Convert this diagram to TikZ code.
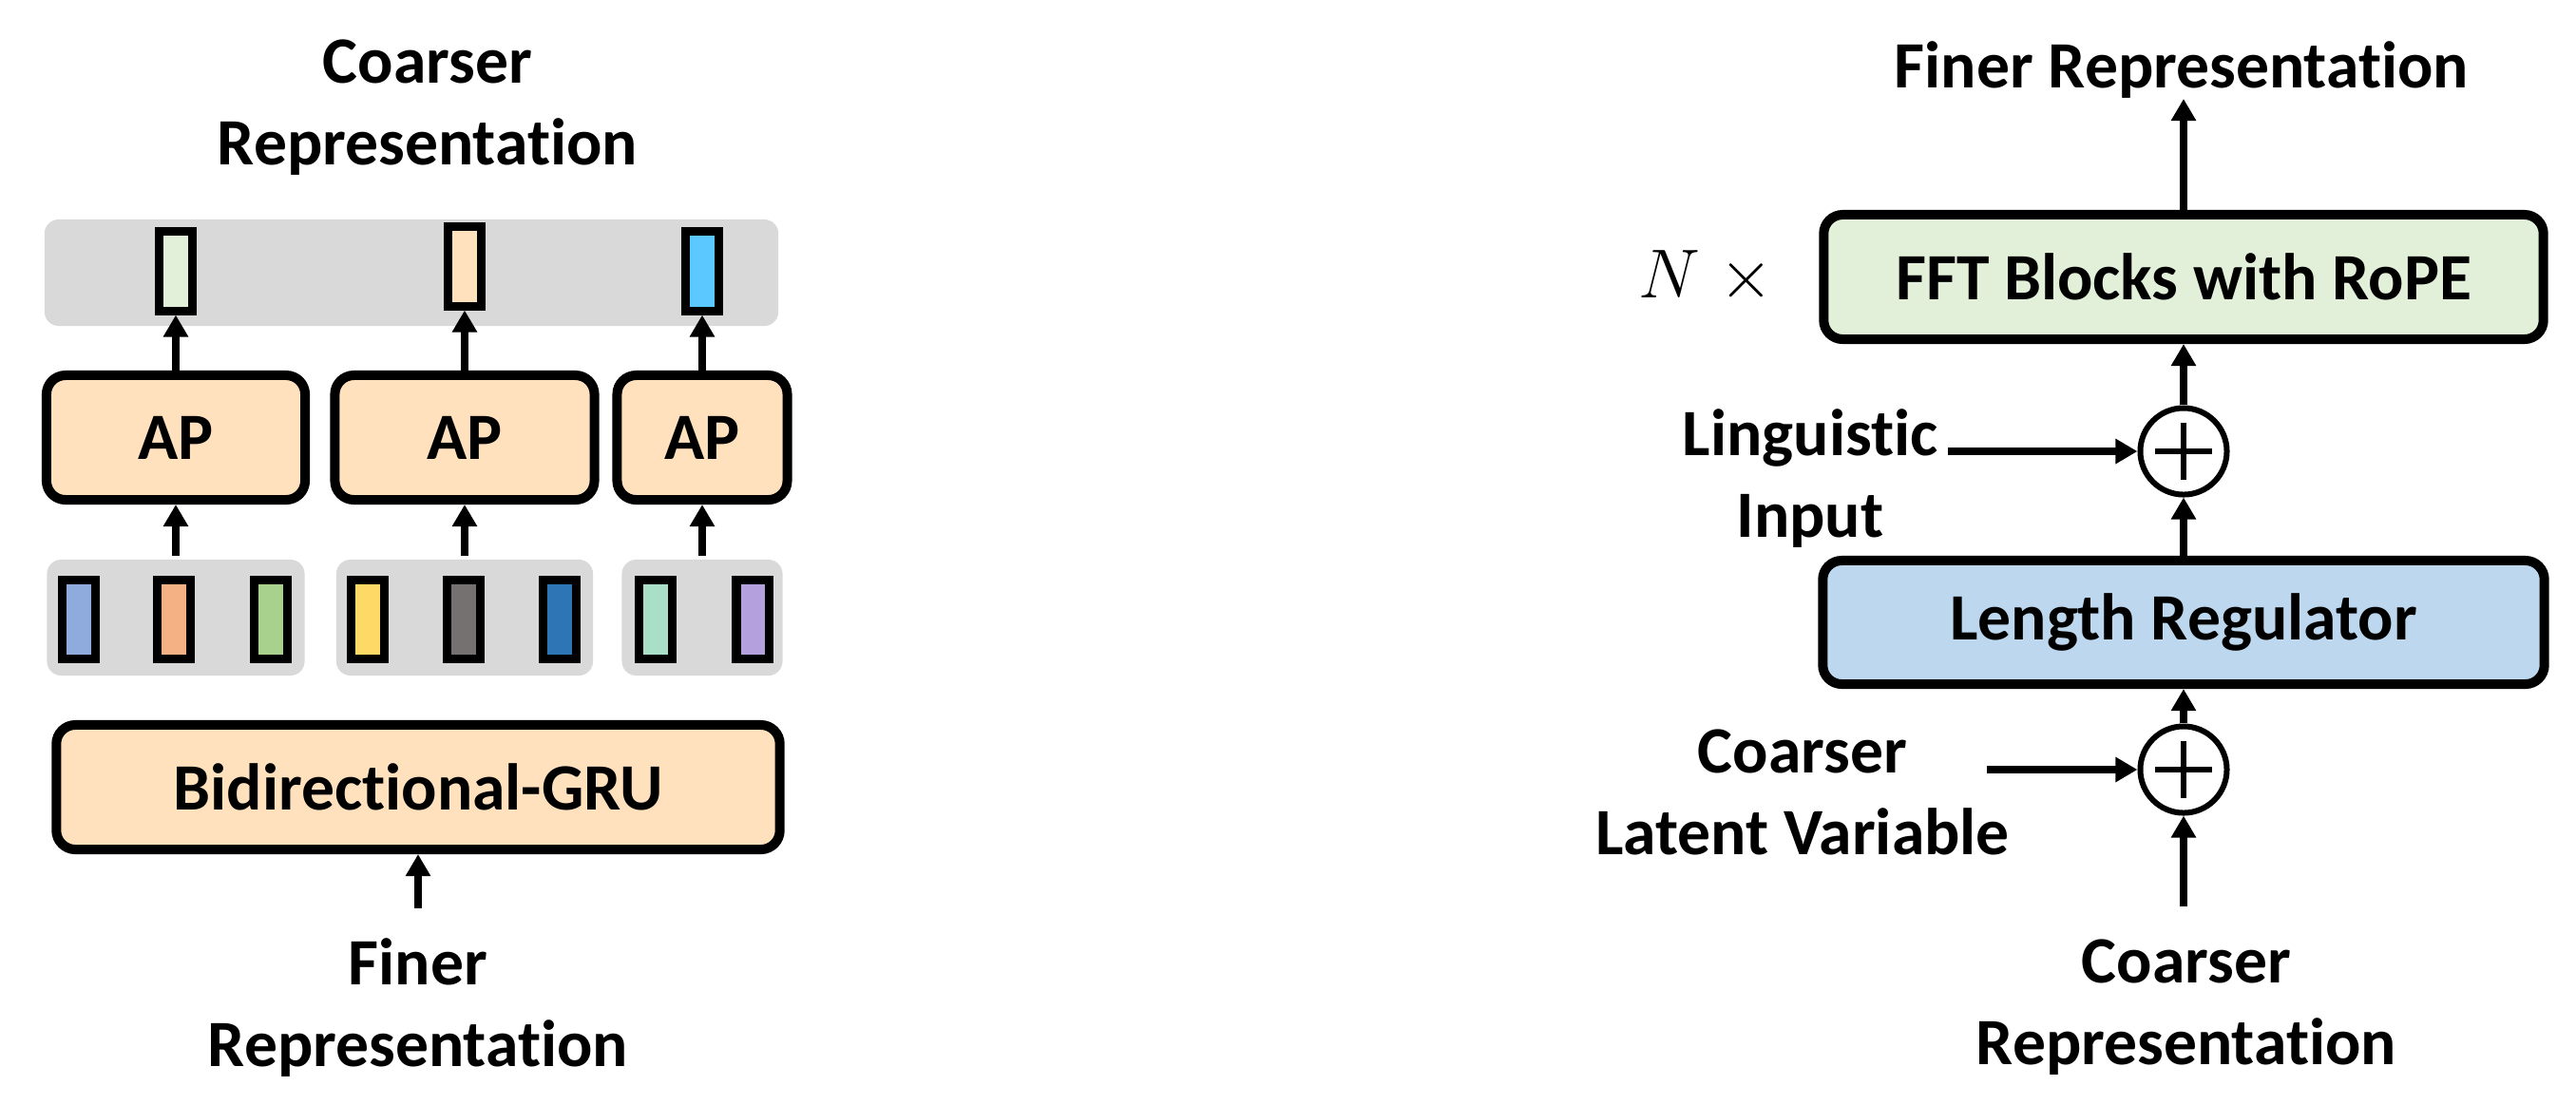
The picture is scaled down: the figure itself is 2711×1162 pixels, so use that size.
\documentclass[tikz,border=0pt]{standalone}
\usepackage{fontspec}
\setmainfont{Carlito}[Ligatures=NoCommon]
\usetikzlibrary{arrows.meta}

\definecolor{bandgray}{HTML}{D9D9D9}
\definecolor{apfill}{HTML}{FFE1BD}
\definecolor{fftfill}{HTML}{E2F0D9}
\definecolor{lrfill}{HTML}{BDD7EE}
\definecolor{vgreen}{HTML}{E2F0D9}
\definecolor{vpeach}{HTML}{FFE1BD}
\definecolor{vsky}{HTML}{5BC8FF}
\definecolor{vblue}{HTML}{8FAADC}
\definecolor{vorange}{HTML}{F4B183}
\definecolor{vleaf}{HTML}{A9D18E}
\definecolor{vyellow}{HTML}{FFD966}
\definecolor{vgrey}{HTML}{767171}
\definecolor{vnavy}{HTML}{2E75B6}
\definecolor{vmint}{HTML}{A9DFC7}
\definecolor{vlilac}{HTML}{B4A0DC}

\newcommand{\figfont}{\fontsize{19.8}{24.2}\selectfont}

\begin{document}
\begin{tikzpicture}[x=0.01cm, y=-0.01cm, line width=0.08cm,
  >={Triangle[length=0.23cm,width=0.25cm]}]
  \tikzstyle{block}=[draw, rounded corners=0.2cm, line width=0.1cm, inner sep=0pt, minimum height=1.31cm, font=\figfont\bfseries]
  \tikzstyle{vec}=[draw, line width=0.09cm, inner sep=0pt, minimum width=0.34cm, minimum height=0.83cm]
  \tikzstyle{band}=[fill=bandgray, rounded corners=0.15cm, inner sep=0pt]
  \tikzstyle{sum}=[draw, circle, line width=0.06cm, inner sep=0pt, minimum size=0.91cm]
  \tikzstyle{txt}=[font=\figfont\bfseries, align=center, anchor=base, inner sep=0pt]

  \useasboundingbox (0, 0) rectangle (2711, 1162);

  \node[txt] (coarseout) at (450, 173) {Coarser\\Representation};

  \node[band, minimum width=7.72cm, minimum height=1.12cm] (topband) at (433, 287) {};
  \node[vec, fill=vgreen] (c1) at (185, 285.5) {};
  \node[vec, fill=vpeach] (c2) at (489, 280.5) {};
  \node[vec, fill=vsky] (c3) at (739, 285.5) {};

  \node[block, fill=apfill, minimum width=2.72cm] (ap1) at (185, 460.5) {AP};
  \node[block, fill=apfill, minimum width=2.73cm] (ap2) at (489, 460.5) {AP};
  \node[block, fill=apfill, minimum width=1.79cm] (ap3) at (739, 460.5) {AP};

  \node[band, minimum width=2.71cm, minimum height=1.22cm] (g1) at (185, 650) {};
  \node[band, minimum width=2.70cm, minimum height=1.22cm] (g2) at (489, 650) {};
  \node[band, minimum width=1.69cm, minimum height=1.22cm] (g3) at (739, 650) {};

  \node[vec, fill=vblue] (f1) at (83, 652) {};
  \node[vec, fill=vorange] (f2) at (183, 652) {};
  \node[vec, fill=vleaf] (f3) at (285, 652) {};
  \node[vec, fill=vyellow] (f4) at (387, 652) {};
  \node[vec, fill=vgrey] (f5) at (488, 652) {};
  \node[vec, fill=vnavy] (f6) at (589, 652) {};
  \node[vec, fill=vmint] (f7) at (690, 652) {};
  \node[vec, fill=vlilac] (f8) at (792, 652) {};

  \node[block, fill=apfill, minimum width=7.61cm] (gru) at (440, 828.5) {Bidirectional-GRU};

  \coordinate (finein) at (440, 956);
  \node[txt] (finetxt) at (440, 1122) {Finer\\Representation};

  \draw[->] (ap1.north) -- (c1.south);
  \draw[->] (ap2.north) -- (c2.south);
  \draw[->] (ap3.north) -- (c3.south);
  \draw[->] (g1.north) -- (ap1.south);
  \draw[->] (g2.north) -- (ap2.south);
  \draw[->] (g3.north) -- (ap3.south);
  \draw[->] (finein) -- (gru.south);

  \node[txt] (fineout) at (2296, 92) {Finer Representation};
  \coordinate (fftout) at (2298, 104);

  \node[block, fill=fftfill, minimum width=7.57cm] (fft) at (2298, 291.5) {FFT Blocks with RoPE};
  \node[font=\figfont, inner sep=0pt] (ntimes) at (1795, 292) {$N\;\times$};

  \node[sum] (s1) at (2298, 475) {};
  \draw[line width=0.06cm] (s1.center) ++(-30, 0) -- ++(60, 0) (s1.center) ++(0, -30) -- ++(0, 60);
  \node[txt] (ling) at (1905, 565) {Linguistic\\Input};
  \coordinate (lingend) at (2050, 475);

  \node[block, fill=lrfill, minimum width=7.59cm, minimum height=1.30cm] (lr) at (2298, 655) {Length Regulator};

  \node[sum] (s2) at (2298, 810) {};
  \draw[line width=0.06cm] (s2.center) ++(-30, 0) -- ++(60, 0) (s2.center) ++(0, -30) -- ++(0, 60);
  \node[txt] (latent) at (1897, 899) {Coarser\\Latent Variable};
  \coordinate (latentend) at (2091, 810);

  \coordinate (coarsebot) at (2298, 954);
  \node[txt] (coarsein) at (2301, 1120) {Coarser\\Representation};

  \draw[->] (fft.north) -- (fftout);
  \draw[->] (s1.north) -- (fft.south);
  \draw[->] (lingend) -- (s1.west);
  \draw[->] (lr.north) -- (s1.south);
  \draw[->] (s2.north) -- (lr.south);
  \draw[->] (latentend) -- (s2.west);
  \draw[->] (coarsebot) -- (s2.south);

\end{tikzpicture}
\end{document}
